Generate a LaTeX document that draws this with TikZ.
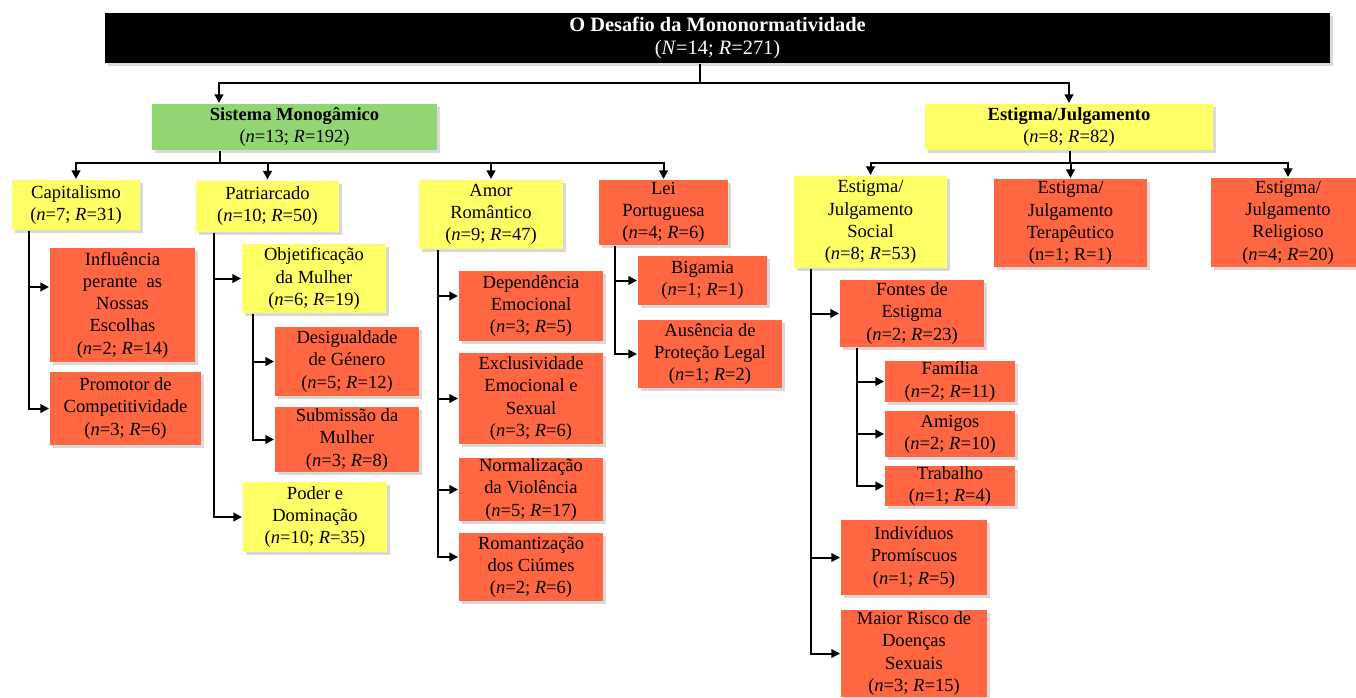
\documentclass[tikz,border=0pt]{standalone}
\usepackage{fontspec}
\setmainfont{Liberation Serif}
\usetikzlibrary{arrows.meta,shadows}
\definecolor{boxyellow}{RGB}{255,255,102}
\definecolor{boxgreen}{RGB}{146,214,116}
\definecolor{boxred}{RGB}{255,102,66}
\newcommand{\nRcount}[2]{(\textit{n}=#1; \textit{R}=#2)}

\begin{document}
\begin{tikzpicture}[x=.75pt,y=-.75pt,>={Triangle[length=6.5pt,width=6.5pt]},line width=1.5pt,
base/.style={inner sep=0pt,align=center,font=\fontsize{13.9}{16.7}\selectfont,
  drop shadow={shadow xshift=2.5pt,shadow yshift=-2.5pt,opacity=.3}},
yelbox/.style={base,fill=boxyellow},
grnbox/.style={base,fill=boxgreen},
redbox/.style={base,fill=boxred},
sz/.style 2 args={minimum width=#1*.75pt,minimum height=#2*.75pt}]
\useasboundingbox (0,0) rectangle (1356,697);

\node[base,fill=black,text=white,sz={1225}{50},font=\fontsize{15.3}{17.3}\selectfont] (title) at (717.5,38)
  {\textbf{O Desafio da Mononormatividade}\\(\textit{N}=14; \textit{R}=271)};

\node[grnbox,sz={285}{46}] (sis) at (294.5,127) {\textbf{Sistema Monogâmico}\\\nRcount{13}{192}};
\node[yelbox,sz={288}{46}] (est) at (1069,127) {\textbf{Estigma/Julgamento}\\\nRcount{8}{82}};

\node[yelbox,sz={128}{50}] (cap) at (76,205) {Capitalismo\\\nRcount{7}{31}};
\node[yelbox,sz={143}{51}] (pat) at (267.5,206) {Patriarcado\\\nRcount{10}{50}};
\node[yelbox,sz={144}{69}] (amor) at (491,214.5) {Amor\\Romântico\\\nRcount{9}{47}};
\node[redbox,sz={129}{65}] (lei) at (663.5,212.5) {Lei\\Portuguesa\\\nRcount{4}{6}};
\node[yelbox,sz={153}{92}] (soc) at (870.5,222) {Estigma/\\Julgamento\\Social\\\nRcount{8}{53}};
\node[redbox,sz={153}{88}] (ter) at (1070.5,223) {Estigma/\\Julgamento\\Terapêutico\\(n=1; R=1)};
\node[redbox,sz={154}{89}] (rel) at (1288,222.5) {Estigma/\\Julgamento\\Religioso\\\nRcount{4}{20}};

\node[redbox,sz={145}{114}] (infl) at (122.5,305) {Influência\\perante~ as\\Nossas\\Escolhas\\\nRcount{2}{14}};
\node[redbox,sz={151}{73}] (prom) at (125.5,408.5) {Promotor de\\Competitividade\\\nRcount{3}{6}};

\node[yelbox,sz={144}{69}] (obj) at (314,278.5) {Objetificação\\da Mulher\\\nRcount{6}{19}};
\node[redbox,sz={144}{69}] (desig) at (347,361.5) {Desigualdade\\de Género\\\nRcount{5}{12}};
\node[redbox,sz={144}{65}] (subm) at (347,439.5) {Submissão da\\Mulher\\\nRcount{3}{8}};
\node[yelbox,sz={144}{70}] (poder) at (315,517) {Poder e\\Dominação\\\nRcount{10}{35}};

\node[redbox,sz={144}{70}] (dep) at (531,306) {Dependência\\Emocional\\\nRcount{3}{5}};
\node[redbox,sz={144}{91}] (excl) at (531,398.5) {Exclusividade\\Emocional e\\Sexual\\\nRcount{3}{6}};
\node[redbox,sz={144}{63}] (norm) at (531,489.5) {Normalização\\da Violência\\\nRcount{5}{17}};
\node[redbox,sz={144}{68}] (roman) at (531,567) {Romantização\\dos Ciúmes\\\nRcount{2}{6}};

\node[redbox,sz={129}{49}] (big) at (702.5,280.5) {Bigamia\\\nRcount{1}{1}};
\node[redbox,sz={144}{68}] (aus) at (710,354) {Ausência de\\Proteção Legal\\\nRcount{1}{2}};

\node[redbox,sz={144}{67}] (font) at (912,313.5) {Fontes de\\Estigma\\\nRcount{2}{23}};
\node[redbox,sz={130}{41}] (fam) at (950,381.5) {Família\\\nRcount{2}{11}};
\node[redbox,sz={130}{46}] (ami) at (950,434) {Amigos\\\nRcount{2}{10}};
\node[redbox,sz={130}{38}] (trab) at (950,486) {Trabalho\\\nRcount{1}{4}};
\node[redbox,sz={146}{75}] (indiv) at (914,557.5) {Indivíduos\\Promíscuos\\\nRcount{1}{5}};
\node[redbox,sz={146}{87}] (maior) at (914,653.5) {Maior Risco de\\Doenças\\Sexuais\\\nRcount{3}{15}};

\coordinate (tj) at (700,83);
\coordinate (sj) at (220,163);
\coordinate (ej) at (1070,163);

\draw (title.south -| tj) -- (tj);
\draw[->] (tj) -| ([xshift=51pt]sis.north west);
\draw[->] (tj) -| (est);

\draw (sis.south -| sj) -- (sj);
\foreach \c in {cap,pat,amor,lei} \draw[->] (sj) -| (\c);
\draw (est.south -| ej) -- (ej);
\foreach \c in {soc,ter,rel} \draw[->] (ej) -| (\c);

\draw[->] ([xshift=13.5pt]cap.south west) |- ([yshift=13.5pt]infl.west);
\draw[->] ([xshift=13.5pt]cap.south west) |- (prom);
\foreach \c in {obj,poder} \draw[->] ([xshift=14.25pt]pat.south west) |- (\c);
\foreach \c in {desig,subm} \draw[->] ([xshift=9pt]obj.south west) |- (\c);
\draw[->] ([xshift=15pt]amor.south west) |- ([yshift=7.5pt]dep.west);
\foreach \c in {excl,norm} \draw[->] ([xshift=15pt]amor.south west) |- (\c);
\draw[->] ([xshift=15pt]amor.south west) |- ([yshift=7.5pt]roman.west);
\foreach \c in {big,aus} \draw[->] ([xshift=12.75pt]lei.south west) |- (\c);
\foreach \c in {font,indiv,maior} \draw[->] ([xshift=13.5pt]soc.south west) |- (\c);
\foreach \c in {fam,ami,trab} \draw[->] ([xshift=13.5pt]font.south west) |- (\c);

\end{tikzpicture}
\end{document}
